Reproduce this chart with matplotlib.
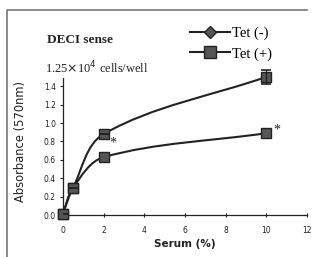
import matplotlib.pyplot as plt
import numpy as np
from matplotlib.path import Path
from matplotlib.patches import PathPatch
from matplotlib.lines import Line2D

# Serum concentration (%) and absorbance (570nm)
serum = [0, 0.5, 2, 10]
tet_minus = [0.02, 0.30, 0.88, 1.50]
tet_plus = [0.02, 0.30, 0.63, 0.89]
tet_minus_err = [0.0, 0.0, 0.0, 0.075]
xticks = [0, 2, 4, 6, 8, 10, 12]
yticks = [0.0, 0.2, 0.4, 0.6, 0.8, 1.0, 1.2, 1.4, 1.6]

SERIF = 'Liberation Serif'
INK = '#222222'
FILL = '#555555'


def smooth_path(ax, x, y):
    # smoothed line (like Excel's) drawn as cubic Bezier segments in display space
    pts = ax.transData.transform(np.column_stack([x, y]))
    n = len(pts)
    tang = []
    for i in range(n):
        d = pts[min(i + 1, n - 1)] - pts[max(i - 1, 0)]
        tang.append(d / np.hypot(*d))
    verts = [pts[0]]
    codes = [Path.MOVETO]
    for i in range(n - 1):
        L = np.hypot(*(pts[i + 1] - pts[i])) / 3
        verts += [pts[i] + tang[i] * L, pts[i + 1] - tang[i + 1] * L, pts[i + 1]]
        codes += [Path.CURVE4] * 3
    verts = ax.transData.inverted().transform(np.array(verts))
    return Path(verts, codes)


fig = plt.figure(figsize=(3.16, 2.57), dpi=100)
ax = fig.add_axes([0.199, 0.162, 0.773, 0.575])
ax.set_xlim(0, 12)
ax.set_ylim(0, 1.6)

for ys in (tet_minus, tet_plus):
    ax.add_patch(PathPatch(smooth_path(ax, serum, ys), fill=False,
                           edgecolor=INK, linewidth=1.5, zorder=2))

ax.plot(serum, tet_minus, linestyle='none', marker='s', markersize=6.5,
        markerfacecolor=FILL, markeredgecolor=INK, zorder=4, clip_on=False)
ax.plot(serum, tet_plus, linestyle='none', marker='s', markersize=6.5,
        markerfacecolor=FILL, markeredgecolor=INK, zorder=4, clip_on=False)
ax.errorbar(serum, tet_minus, yerr=tet_minus_err, fmt='none', ecolor=INK,
            elinewidth=1, capsize=3.5, capthick=1.2, zorder=5)

# significance marks
ax.text(serum[2] + 0.3, tet_plus[2] + 0.15, '*', fontsize=10, family=SERIF,
        color=INK, ha='left', va='center')
ax.text(serum[3] + 0.35, tet_plus[3] + 0.03, '*', fontsize=10, family=SERIF,
        color=INK, ha='left', va='center')

ax.set_xticks(xticks)
ax.set_yticks(yticks)
ax.set_yticklabels([f'{v:.1f}' for v in yticks])
ax.tick_params(labelsize=5.5, length=2, width=0.8, colors=INK, pad=3)
ax.tick_params(axis='x', direction='inout', length=3, pad=6)
for s in ('top', 'right'):
    ax.spines[s].set_visible(False)
for s in ('left', 'bottom'):
    ax.spines[s].set_color(INK)
    ax.spines[s].set_linewidth(0.9)

ax.set_xlabel('Serum (%)', fontsize=7.5, fontweight='bold', color=INK, labelpad=3)
ax.set_ylabel('Absorbance (570nm)', fontsize=8.3, color=INK, labelpad=12)

leg_minus = Line2D([], [], color=INK, linewidth=1.5, marker='D', markersize=6,
                   markerfacecolor=FILL, markeredgecolor=INK)
leg_plus = Line2D([], [], color=INK, linewidth=1.5, marker='s', markersize=8,
                  markerfacecolor=FILL, markeredgecolor=INK)
fig.legend([leg_minus, leg_plus], ['Tet (-)', 'Tet (+)'],
           loc='upper left', bbox_to_anchor=(0.577, 0.926), frameon=False,
           prop={'family': SERIF, 'size': 10.5}, handlelength=2.8,
           handletextpad=0.1, labelspacing=0.5, borderpad=0)

fig.text(0.149, 0.843, 'DECI sense', fontsize=9.5, fontweight='bold',
         family=SERIF, color=INK, va='center')
fig.text(0.143, 0.735, r'1.25$\times$10$^4$ cells/well', fontsize=9,
         family=SERIF, color=INK, va='center', zorder=5,
         bbox=dict(facecolor='white', edgecolor='none', pad=1.0))

# top and left edges of the panel frame
fig.add_artist(Line2D([0.022, 0.022, 0.97], [0.0, 0.961, 0.961],
                      transform=fig.transFigure, color='#777777', linewidth=1.2))

fig.savefig('out.png', dpi=100)
plt.close()
